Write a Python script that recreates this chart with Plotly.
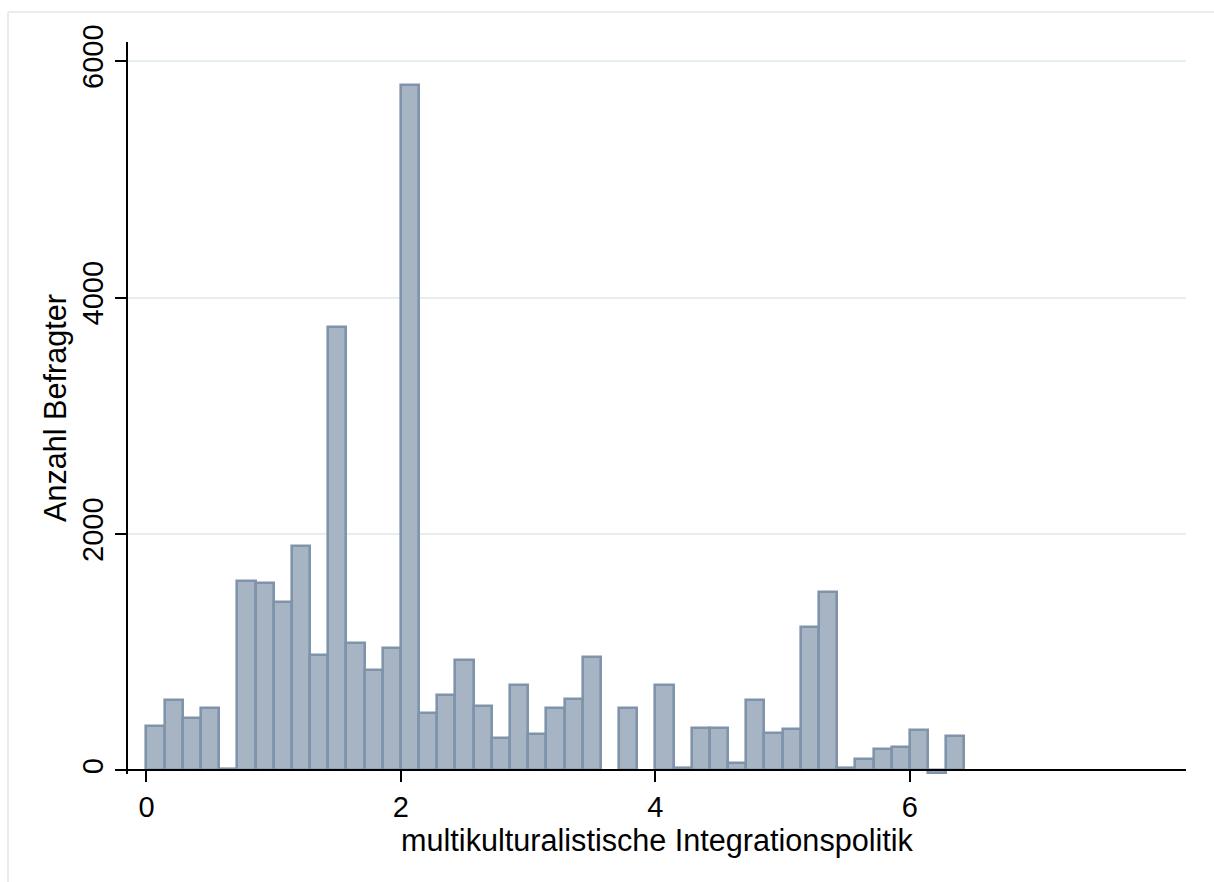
import plotly.graph_objects as go

# Histogram of "multikulturalistische Integrationspolitik" (bin width 1/7, starting at 0)
bin_start = 0.0
bin_width = 1 / 7
counts = [372, 598, 446, 530, 10, 1605, 1585, 1421, 1898, 976,
          3750, 1077, 852, 1032, 5797, 485, 640, 937, 541, 274,
          719, 308, 528, 604, 956, None, 528, None, 719, 20,
          357, 361, 65, 592, 319, 353, 1216, 1512, 20, 93,
          178, 197, 338, -25, 290]
x_ticks = [0, 2, 4, 6]
y_ticks = [0, 2000, 4000, 6000]

centers = [bin_start + (i + 0.5) * bin_width for i in range(len(counts))]

fig = go.Figure()
fig.add_trace(go.Bar(
    x=centers, y=counts, width=bin_width,
    marker=dict(color="#a6b4c4", line=dict(color="#7f93aa", width=2.6)),
    showlegend=False,
))

font = "Liberation Sans, Arial, sans-serif"
ymin, ymax = -30, 6161
fig.update_layout(
    width=1214, height=882,
    margin=dict(l=128, r=28, t=42, b=108),
    paper_bgcolor="white", plot_bgcolor="white",
    font=dict(family=font, color="black", size=29),
    bargap=0,
    xaxis=dict(
        range=[-0.145, 8.17], tickvals=x_ticks, ticktext=[str(v) for v in x_ticks],
        showgrid=False, zeroline=False, showline=True, linecolor="black", linewidth=2,
        ticks="outside", ticklen=11, tickwidth=2, tickcolor="black",
        anchor="free", position=(0 - ymin) / (ymax - ymin),
        tickfont=dict(size=29),
        title=dict(text="multikulturalistische Integrationspolitik", font=dict(size=30.6), standoff=2),
    ),
    yaxis=dict(
        range=[ymin, ymax], tickvals=y_ticks, ticktext=[str(v) for v in y_ticks],
        showgrid=True, gridcolor="#e6eef1", gridwidth=2, zeroline=False,
        showline=True, linecolor="black", linewidth=2,
        ticks="outside", ticklen=11, tickwidth=2, tickcolor="black",
        tickangle=-90, tickfont=dict(size=29),
        title=dict(text="Anzahl Befragter", font=dict(size=30.6), standoff=2),
    ),
)

# outer light frame (Stata graph region border)
px0, py0 = 8, 12
fx = (px0 - 128) / (1214 - 128 - 28)
fy = (882 - 108 - py0) / (882 - 42 - 108)
fig.add_shape(type="line", xref="paper", yref="paper", x0=fx, x1=1.2, y0=fy, y1=fy,
              line=dict(color="#e6edf0", width=2), layer="below")
fig.add_shape(type="line", xref="paper", yref="paper", x0=fx, x1=fx, y0=fy, y1=-0.2,
              line=dict(color="#e6edf0", width=2), layer="below")

fig.write_html("out.html")
